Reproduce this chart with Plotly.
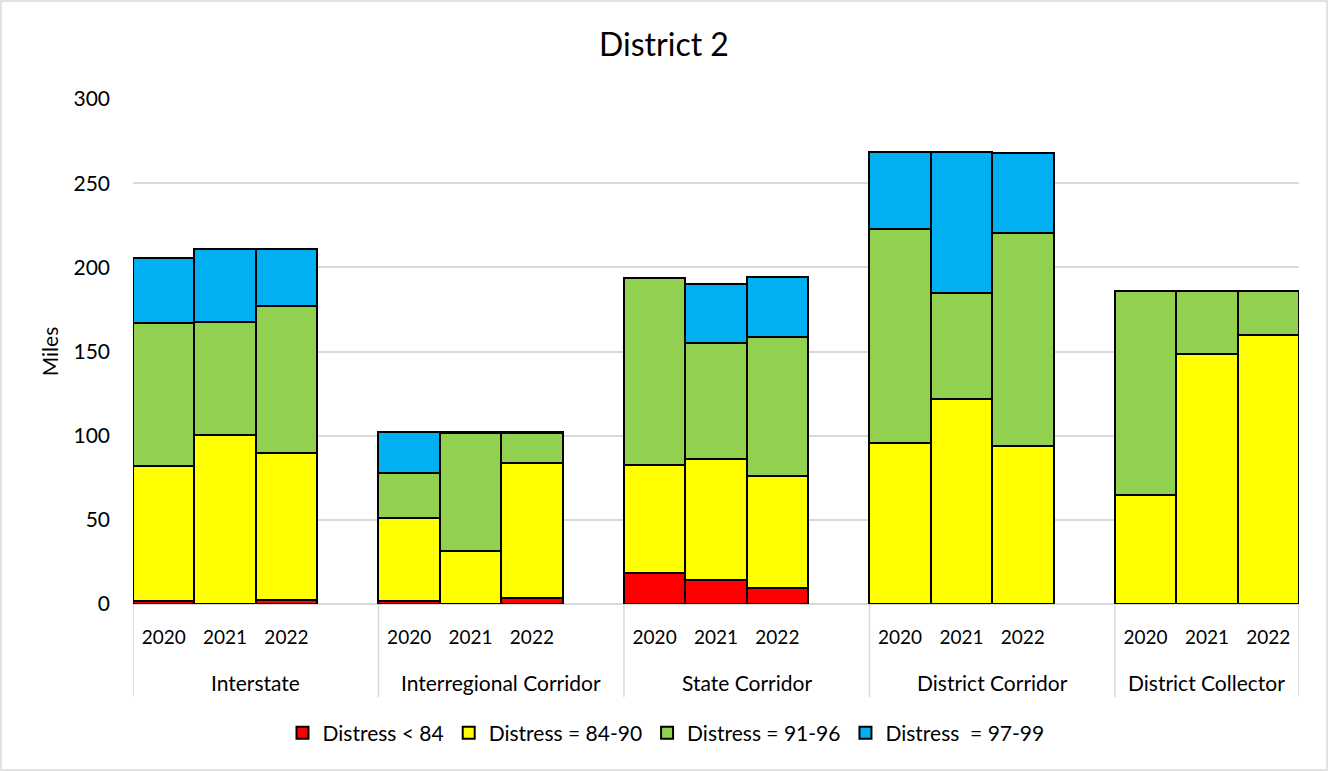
import plotly.graph_objects as go

categories = ["Interstate", "Interregional Corridor", "State Corridor", "District Corridor", "District Collector"]
years = ["2020", "2021", "2022"]

# values per category, in year order (miles)
red =    [[2.0, 0.0, 2.6], [1.5, 0.0, 3.4], [18.2, 14.3, 9.7], [0.0, 0.0, 0.0], [0.3, 0.0, 0.0]]
yellow = [[80.2, 100.2, 87.3], [49.4, 31.7, 80.6], [64.4, 71.8, 66.5], [95.4, 121.6, 93.9], [64.6, 148.5, 160.0]]
green =  [[84.9, 67.1, 87.1], [26.9, 69.7, 17.4], [111.3, 68.8, 82.2], [127.6, 63.2, 126.7], [121.2, 37.6, 26.1]]
blue =   [[38.3, 43.4, 33.7], [24.4, 0.6, 0.6], [0.0, 35.2, 35.7], [45.7, 83.9, 47.5], [0.0, 0.0, 0.0]]

series_names = ["Distress < 84", "Distress = 84-90", "Distress = 91-96", "Distress  = 97-99"]
series_colors = ["#FF0000", "#FFFF00", "#92D050", "#00B0F0"]

FONT = "Lato"
SLOT = len(years) + 1  # 3 bars + 1 gap slot per group

# slot positions of bars (group index * SLOT + year index)
xpos, xlab = [], []
for gi, c in enumerate(categories):
    for yi, y in enumerate(years):
        xpos.append(gi * SLOT + yi)
        xlab.append(y)
x_min = -0.5
x_max = (len(categories) - 1) * SLOT + len(years) - 0.5


def flat(vals):
    return [v for row in vals for v in row]


fig = go.Figure()
for name, color, vals in zip(series_names, series_colors, [red, yellow, green, blue]):
    fig.add_trace(go.Bar(
        x=xpos, y=flat(vals), name=name, width=1,
        marker=dict(color=color, line=dict(color="black", width=2)),
    ))

W, H = 1328, 771
L, R, T, B = 133, 29, 99, 167
pw, ph = W - L - R, H - T - B

annotations = []
shapes = []
div_bottom = -(697 - (T + ph)) / ph
for gi, c in enumerate(categories):
    start = gi * SLOT - 0.5
    end = min(start + SLOT, x_max)
    annotations.append(dict(text=c, x=(start + end) / 2, xref="x", y=-(682 - (T + ph)) / ph, yref="paper",
                            showarrow=False, xanchor="center", yanchor="middle",
                            font=dict(family=FONT, size=21, color="black")))
    shapes.append(dict(type="line", xref="x", yref="paper", x0=start, x1=start, y0=0, y1=div_bottom,
                       line=dict(color="#D9D9D9", width=1.5)))
shapes.append(dict(type="line", xref="x", yref="paper", x0=x_max, x1=x_max, y0=0, y1=div_bottom,
                   line=dict(color="#D9D9D9", width=1.5)))
shapes.append(dict(type="rect", xref="paper", yref="paper",
                   x0=-(L - 1) / pw, x1=1 + (R - 1) / pw, y0=-(B - 1) / ph, y1=1 + (T - 1) / ph,
                   line=dict(color="#D9D9D9", width=1.5), layer="below"))

fig.update_layout(
    width=W, height=H,
    barmode="stack", bargap=0,
    margin=dict(l=L, r=R, t=T, b=B, autoexpand=False),
    paper_bgcolor="white", plot_bgcolor="white",
    font=dict(family=FONT, size=20, color="black"),
    title=dict(text="District 2", x=0.5, xanchor="center", y=1 - 45 / H, yanchor="middle",
               font=dict(family=FONT, size=32, color="black")),
    legend=dict(orientation="h", x=(666 - L) / pw, xanchor="center", y=(-(733 - (T + ph)) / ph), yanchor="middle",
                font=dict(family=FONT, size=21), traceorder="normal", itemwidth=30),
    xaxis=dict(range=[x_min, x_max], tickmode="array", tickvals=xpos, ticktext=xlab,
               showline=False, showgrid=False, zeroline=False, ticks="", ticklabelstandoff=20,
               tickfont=dict(family=FONT, size=19)),
    yaxis=dict(range=[0, 300], dtick=50, showgrid=True, gridcolor="#D9D9D9", gridwidth=1.5,
               zeroline=True, zerolinecolor="#D9D9D9", zerolinewidth=1.5,
               showline=False, ticks="", ticklabelstandoff=22, tickfont=dict(family=FONT, size=21),
               title=dict(text="Miles", font=dict(family=FONT, size=21), standoff=9)),
    annotations=annotations,
    shapes=shapes,
)

fig.write_html("out.html", config={"displayModeBar": False})
with open("out.html", "r", encoding="utf-8") as f:
    html = f.read()
html = html.replace("<head>", "<head><style>html,body{margin:0;padding:0;overflow:hidden;}</style>", 1)
with open("out.html", "w", encoding="utf-8") as f:
    f.write(html)
